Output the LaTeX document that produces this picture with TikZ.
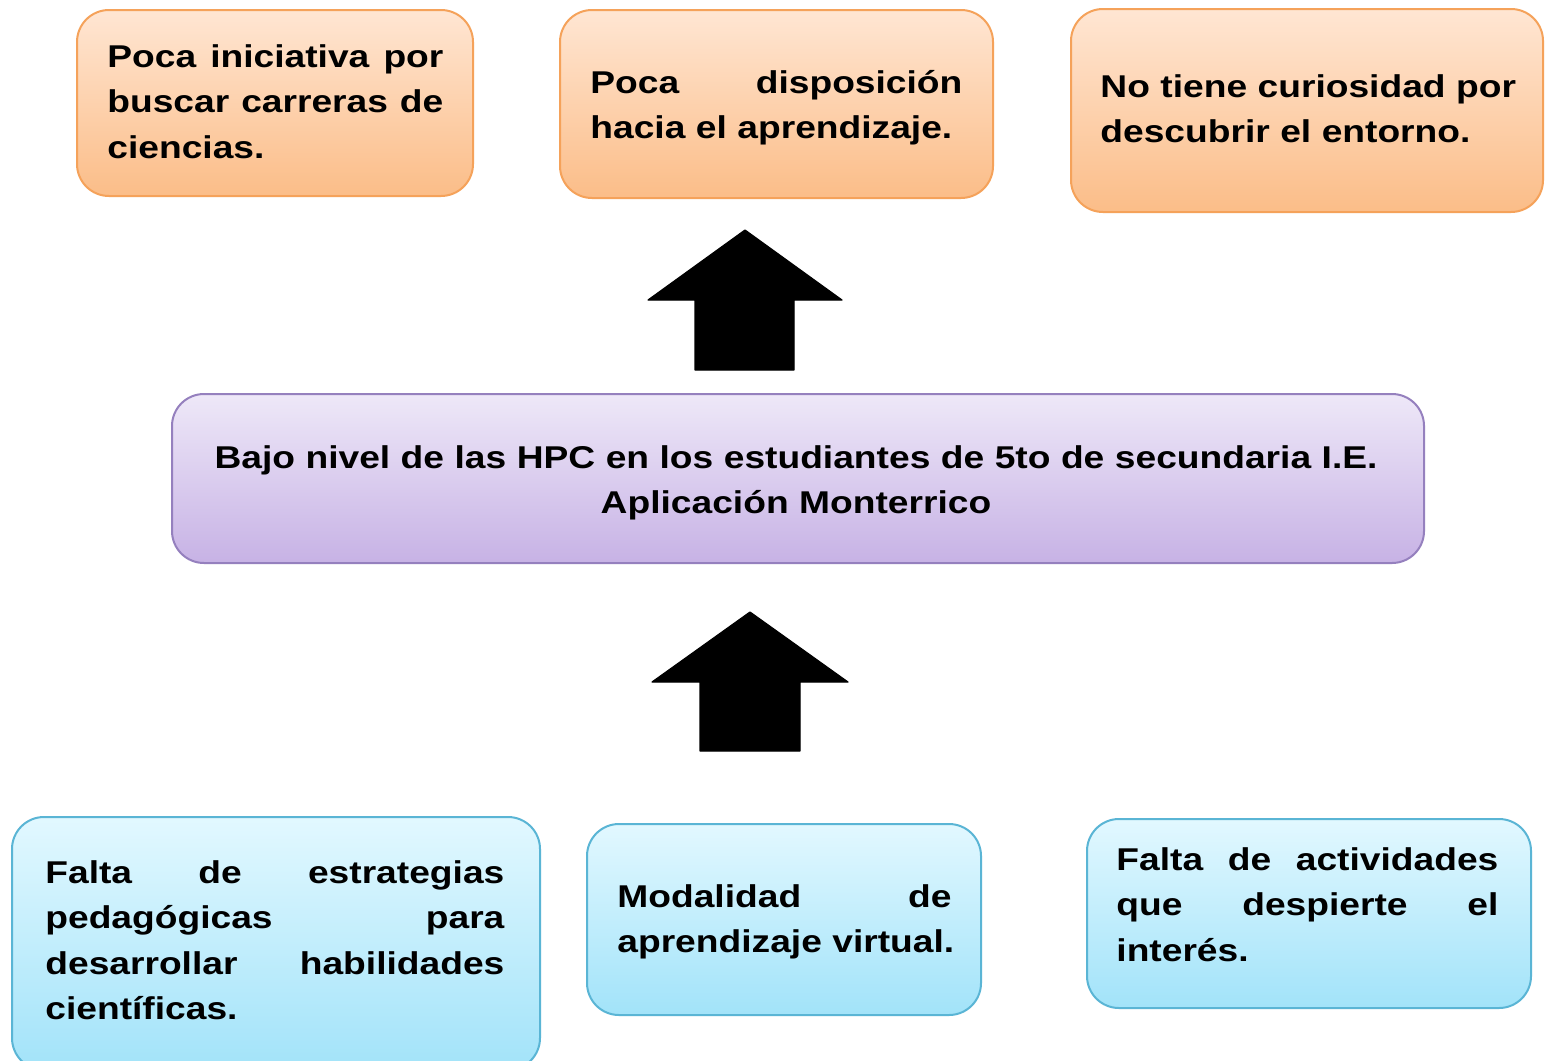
\documentclass[tikz,border=0pt]{standalone}
\usepackage{fontspec}
\setmainfont{Liberation Sans}[FakeStretch=1.18]
\usetikzlibrary{fit}
\definecolor{orT}{HTML}{FFE6D3}
\definecolor{orB}{HTML}{FBBD88}
\definecolor{orD}{HTML}{F5A25A}
\definecolor{puT}{HTML}{EEE8F8}
\definecolor{puB}{HTML}{C7B2E5}
\definecolor{puD}{HTML}{9580BE}
\definecolor{blT}{HTML}{E2F8FF}
\definecolor{blB}{HTML}{A2E3F9}
\definecolor{blD}{HTML}{5AB5D5}
\tikzset{
  boxbase/.style={inner sep=0pt, line width=1pt, rounded corners=16pt},
  obox/.style={boxbase, draw=orD, top color=orT, bottom color=orB},
  pbox/.style={boxbase, draw=puD, top color=puT, bottom color=puB},
  bbox/.style={boxbase, draw=blD, top color=blT, bottom color=blB},
  txt/.style={inner sep=0pt, anchor=base west, align=left, font=\fontsize{15.75pt}{22.75pt}\selectfont\bfseries},
  blockarrow/.style={fill=black, draw=black, line width=0.6pt, line join=round}
}
\newcommand{\jline}[2]{\leavevmode\hbox to #1{#2}}
\begin{document}
\begin{tikzpicture}[x=0.5pt,y=-0.5pt]
\useasboundingbox (0,0) rectangle (1545,1060);
\fill[white] (0,0) rectangle (1545,1060);

% top boxes (effects)
\node[obox, fit={(77,10) (473,196)}] (b1) {};
\node[obox, fit={(560,10) (993,198)}] (b2) {};
\node[obox, fit={(1071,9) (1543,212)}] (b3) {};

\node[txt, text width=240pt] (t1) at (107,67)
  {\jline{168pt}{Poca\hfill iniciativa\hfill por}\\\jline{168pt}{buscar\hfill carreras\hfill de}\\ciencias.};
\node[txt, text width=240pt] (t2) at (590,93)
  {\jline{186pt}{Poca\hfill disposición}\\hacia el aprendizaje.};
\node[txt, text width=240pt] (t3) at (1100,97)
  {No tiene curiosidad por\\descubrir el entorno.};

% central problem
\node[pbox, fit={(172,394) (1424,563)}] (c) {};
\node[inner sep=0pt, anchor=base, align=center, text width=600pt,
      font=\fontsize{15.75pt}{22.5pt}\selectfont\bfseries] (tc) at (796,468)
  {Bajo nivel de las HPC en los estudiantes de 5to de secundaria I.E.\\Aplicación Monterrico};

% bottom boxes (causes)
\node[bbox, fit={(12,817) (540,1070)}] (b4) {};
\node[bbox, fit={(587,824) (981,1015)}] (b5) {};
\node[bbox, fit={(1087,819) (1531,1008)}] (b6) {};

\node[txt, text width=260pt] (t4) at (45,883)
  {\jline{229.5pt}{Falta\hfill de\hfill estrategias}\\\jline{229.5pt}{pedagógicas\hfill para}\\\jline{229.5pt}{desarrollar\hfill habilidades}\\científicas.};
\node[txt, text width=240pt] (t5) at (617,907)
  {\jline{167pt}{Modalidad\hfill de}\\aprendizaje virtual.};
\node[txt, text width=240pt] (t6) at (1116,870)
  {\jline{191pt}{Falta\hfill de\hfill actividades}\\\jline{191pt}{que\hfill despierte\hfill el}\\interés.};

% block arrows
\coordinate (a1tip) at (745,230);
\coordinate (a2tip) at (750,612);
\path[blockarrow] (a1tip) -- (842,300) -- (794,300) -- (794,370) -- (695,370) -- (695,300) -- (648,300) -- cycle;
\path[blockarrow] (a2tip) -- (848,682) -- (800,682) -- (800,751) -- (700,751) -- (700,682) -- (652,682) -- cycle;
\end{tikzpicture}
\end{document}
